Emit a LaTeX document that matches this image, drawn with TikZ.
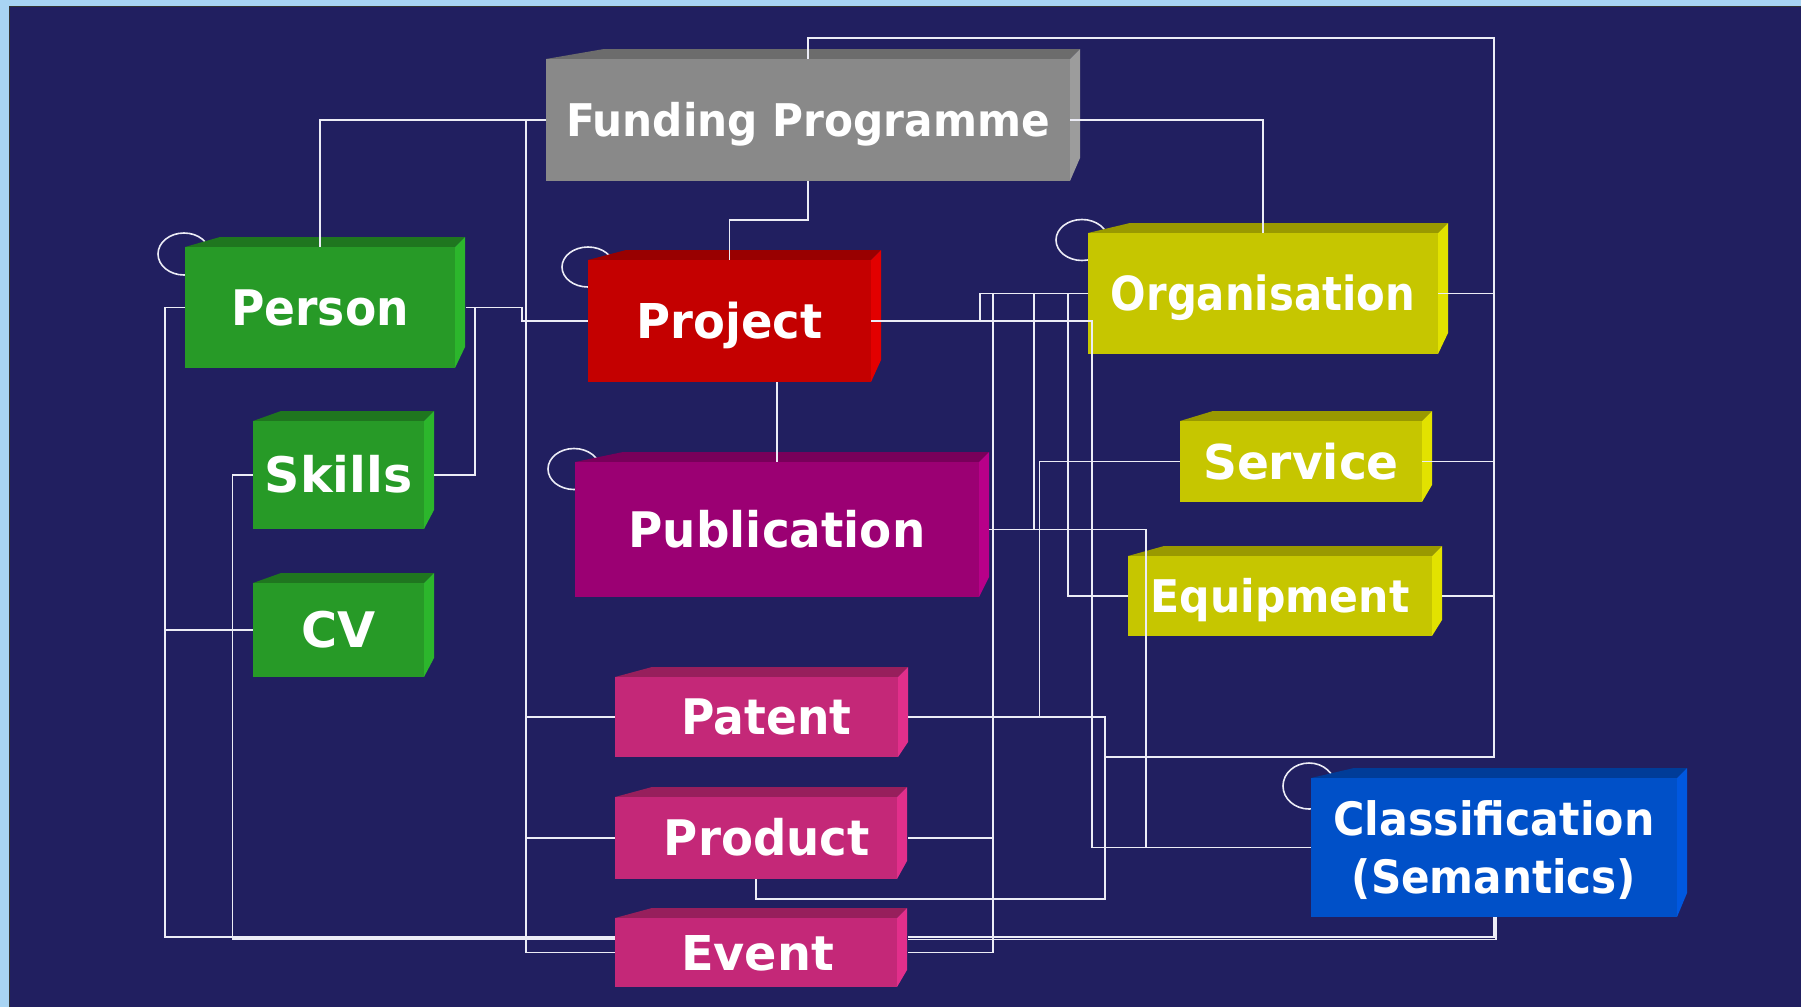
\documentclass[tikz,border=0pt]{standalone}
\usepackage{graphicx}
\usepackage{fontspec}
\newfontfamily\boxfont{DejaVu Sans}[FakeStretch=0.93]
\definecolor{bgc}{RGB}{33,31,96}
\definecolor{skyc}{RGB}{168,212,243}
\definecolor{linec}{RGB}{236,236,246}
\definecolor{gyF}{RGB}{137,137,137}\definecolor{gyT}{RGB}{108,108,108}\definecolor{gyS}{RGB}{156,156,156}
\definecolor{grF}{RGB}{39,154,39}\definecolor{grT}{RGB}{31,118,31}\definecolor{grS}{RGB}{44,182,44}
\definecolor{rdF}{RGB}{196,0,0}\definecolor{rdT}{RGB}{153,0,0}\definecolor{rdS}{RGB}{226,0,0}
\definecolor{puF}{RGB}{155,0,115}\definecolor{puT}{RGB}{120,0,90}\definecolor{puS}{RGB}{184,0,137}
\definecolor{pkF}{RGB}{196,40,120}\definecolor{pkT}{RGB}{151,31,92}\definecolor{pkS}{RGB}{226,47,139}
\definecolor{yeF}{RGB}{198,198,0}\definecolor{yeT}{RGB}{153,153,0}\definecolor{yeS}{RGB}{226,226,0}
\definecolor{blF}{RGB}{0,80,200}\definecolor{blT}{RGB}{0,60,152}\definecolor{blS}{RGB}{0,88,224}
\newcommand\fs[3][1]{\fontsize{#2}{#2}\boxfont\bfseries\rule{0pt}{\dimexpr#2pt*729/1000\relax}\smash{\scalebox{#1}[1]{#3}}}
\newcommand\fstwo[3]{\fontsize{#1}{58}\boxfont\bfseries\rule{0pt}{\dimexpr#1pt*729/1000+58pt\relax}\smash{\begin{tabular}[b]{@{}c@{}}#2\\\scalebox{0.985}[1]{#3}\end{tabular}}}
\newcommand\boxcube[9]{%
  \fill[#8T] (#2,#3) -- ({#2+#6},{#3-10}) -- ({#4+10},{#3-10}) -- (#4,#3) -- cycle;
  \fill[#8S] (#4,#3) -- ({#4+10},{#3-10}) -- ({#4+10},{#5-#7}) -- (#4,#5) -- cycle;
  \node[face, fill=#8F, minimum width={(#4-#2)*1pt}, minimum height={(#5-#3)*1pt}] (#1) at ({(#2+#4)/2},{(#3+#5)/2}) {#9};
}
\tikzset{
  face/.style={rectangle, inner sep=0pt, outer sep=0pt, text=white},
  conn/.style={draw=linec, line width=1.8pt},
  ring/.style={draw=linec, line width=1.6pt},
}
\begin{document}
\begin{tikzpicture}[x=1pt,y=-1pt]
\useasboundingbox (0,0) rectangle (1801,1007);
\fill[skyc] (0,0) rectangle (1801,1007);
\fill[bgc] (10,7) rectangle (1801,1007);
\draw[black!80, line width=1.5pt] (9.25,1007) -- (9.25,6.25) -- (1801,6.25);
% rings behind boxes
\draw[ring] (184,254) ellipse [x radius=26pt, y radius=21pt];
\draw[ring] (588,267) ellipse [x radius=26pt, y radius=20pt];
\draw[ring] (574,469) ellipse [x radius=26pt, y radius=20.5pt];
\draw[ring] (1082,240) ellipse [x radius=26pt, y radius=20.5pt];
\draw[ring] (1309,786) ellipse [x radius=26pt, y radius=23pt];
% boxes
\boxcube{fund}{546}{59}{1070}{181}{58}{23}{gy}{\fs[1.01]{45}{Funding Programme}}
\boxcube{person}{185}{247}{455}{368}{35}{21}{gr}{\fs{49}{Person}}
\boxcube{skills}{253}{421}{424}{529}{28}{19}{gr}{\fs[1.077]{49}{Skills}}
\boxcube{cv}{253}{583}{424}{677}{28}{19}{gr}{\fs[1.08]{49}{CV}}
\boxcube{proj}{588}{260}{871}{382}{38}{22}{rd}{\fs[1.04]{48}{Project}}
\boxcube{pub}{575}{462}{979}{597}{48}{20}{pu}{\fs[1.028]{49}{Publication}}
\boxcube{patent}{615}{677}{898}{757}{37}{15}{pk}{\fs{49}{\hspace{20pt}Patent}}
\boxcube{product}{615}{797}{897}{879}{37}{18}{pk}{\fs[1.023]{49}{\hspace{21pt}Product}}
\boxcube{event}{615}{918}{897}{987}{37}{17}{pk}{\fs[1.07]{48}{\hspace{3pt}Event}}
\boxcube{org}{1088}{233}{1438}{354}{42}{21}{ye}{\fs[0.956]{47}{Organisation}}
\boxcube{service}{1180}{421}{1422}{502}{33}{17}{ye}{\fs[1.055]{48}{Service}}
\boxcube{equip}{1128}{556}{1432}{636}{36}{16}{ye}{\fs[1.018]{45}{Equipment}}
\boxcube{class}{1311}{778}{1677}{917}{43}{24}{bl}{\fstwo{46}{Classification}{(Semantics)}}
% bus points
\coordinate (rb) at (1494,757);
\coordinate (pj) at (1105,757);
\coordinate (lb) at (526,120);
\coordinate (pb) at (165,307);
% connectors
\draw[conn] (fund.north) -- ++(0,-21) -| (rb) -- (pj);
\draw[conn] (org.east) -- (org.east -| rb);
\draw[conn] (service.east) -- (service.east -| rb);
\draw[conn] ([xshift=10pt]equip.east) -- (equip.east -| rb);
\draw[conn] (fund.east) -| (org.north);
\draw[conn] (fund.west) -| (person.north);
\draw[conn] (fund.west) -| (lb) |- (event.west);
\draw[conn] (patent.west) -- (patent.west -| lb);
\draw[conn] (product.west) -- (product.west -| lb);
\draw[conn] (fund.south) -- ++(0,39) -| (proj.north);
\draw[conn] (pub.north) -- (pub.north |- proj.south);
\draw[conn] ([xshift=11pt]person.east) -- ++(56,0) |- (proj.west);
\draw[conn] ([xshift=11pt]person.east) -- ++(9,0) |- ([xshift=10pt]skills.east);
\draw[conn] (person.west) -| (pb) |- ([yshift=15.5pt]event.west);
\draw[conn] (cv.west) -- (cv.west -| pb);
\draw[conn] (skills.west) -- ++(-20.5,0) |- ([yshift=13.5pt]event.west);
\draw[conn] (class.south) |- ([xshift=11pt,yshift=15.5pt]event.east);
\draw[conn] ([xshift=2pt]class.south) |- ([xshift=11pt,yshift=13pt]event.east);
\draw[conn] (proj.east) -- ++(221,0) |- (class.west);
\draw[conn] (org.west) -- ++(-108,0) |- (proj.east);
\draw[conn] (org.west) -- ++(-95,0) |- ([xshift=11pt]product.east);
\draw[conn] (org.west) -- ++(-95,0) |- ([xshift=11pt]event.east);
\draw[conn] (org.west) -- ++(-54,0) |- ([xshift=10pt]pub.east);
\draw[conn] ([xshift=10pt]pub.east) -- ++(157,0) |- (class.west);
\draw[conn] (org.west) -- ++(-20,0) |- (equip.west);
\draw[conn] (service.west) -- ++(-140.5,0) |- ([xshift=10pt]patent.east);
\draw[conn] ([xshift=10pt]patent.east) -| (pj) -- ++(0,142) -| (product.south);
\end{tikzpicture}
\end{document}
